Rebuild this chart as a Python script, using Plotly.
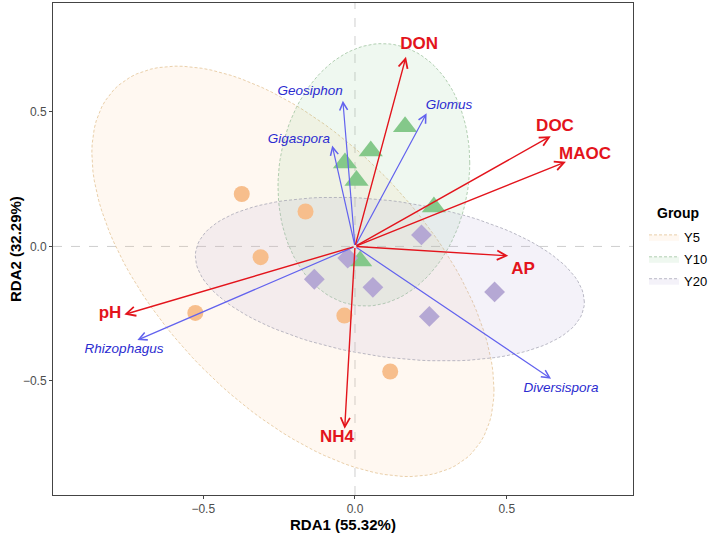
import numpy as np
import plotly.graph_objects as go

# ---------------- data ----------------
groups = ["Y5", "Y10", "Y20"]
y5_x = [-0.373, -0.163, -0.311, -0.526, -0.035, 0.116]
y5_y = [0.195, 0.13, -0.04, -0.247, -0.257, -0.465]
y10_x = [0.165, 0.052, -0.033, 0.005, 0.26, 0.017]
y10_y = [0.445, 0.355, 0.31, 0.245, 0.147, -0.054]
y20_x = [0.219, -0.024, -0.134, 0.059, 0.46, 0.245]
y20_y = [0.043, -0.043, -0.122, -0.152, -0.169, -0.26]

env_names = ["DON", "DOC", "MAOC", "AP", "NH4", "pH"]
env_x = [0.168, 0.645, 0.695, 0.505, -0.034, -0.76]
env_y = [0.705, 0.41, 0.315, -0.035, -0.678, -0.253]
env_lab_x = [0.211, 0.659, 0.758, 0.554, -0.059, -0.807]
env_lab_y = [0.75, 0.445, 0.34, -0.088, -0.71, -0.252]

sp_names = ["Geosiphon", "Glomus", "Gigaspora", "Rhizophagus", "Diversispora"]
sp_x = [-0.04, 0.236, -0.075, -0.717, 0.646]
sp_y = [0.542, 0.495, 0.375, -0.348, -0.492]
sp_lab_x = [-0.148, 0.31, -0.185, -0.761, 0.679]
sp_lab_y = [0.576, 0.524, 0.397, -0.383, -0.529]

x_ticks = [-0.5, 0.0, 0.5]
y_ticks = [-0.5, 0.0, 0.5]
tick_text = ["\u22120.5", "0.0", "0.5"]

# ---------------- styles ----------------
pt_colors = {"Y5": "#F7BE8C", "Y10": "#84C88A", "Y20": "#B5A8D4"}
pt_symbols = {"Y5": "circle", "Y10": "triangle-up", "Y20": "diamond"}
pt_sizes = {"Y5": 16, "Y10": 21, "Y20": 16}
el_fill = {"Y5": "rgba(253,196,140,0.12)", "Y10": "rgba(132,200,138,0.13)", "Y20": "rgba(181,168,212,0.15)"}
el_line = {"Y5": "rgba(225,190,140,0.9)", "Y10": "rgba(150,190,150,0.9)", "Y20": "rgba(160,160,175,0.9)"}
RED = "#E3141C"
BLUE_LINE = "#6262EE"
BLUE_TEXT = "#2B2BD0"
FONT = "Liberation Sans, Arial, sans-serif"

pts = {"Y5": (y5_x, y5_y), "Y10": (y10_x, y10_y), "Y20": (y20_x, y20_y)}


def cov_trob(X, nu=5, maxit=25, tol=0.01):
    n, p = X.shape
    wt = np.ones(n)
    loc = X.mean(0)
    w = np.sqrt(wt)
    Xc = X - loc
    for _ in range(maxit):
        w0 = w
        Xc = X - loc
        _, d, Vt = np.linalg.svd(np.sqrt(w / w.sum())[:, None] * Xc, full_matrices=False)
        wX = Xc @ Vt.T @ np.diag(1 / d)
        Q = (wX ** 2).sum(1)
        w = (wt * (nu + p)) / (nu + Q)
        loc = (w[:, None] * X).sum(0) / w.sum()
        if np.all(np.abs(w - w0) < tol):
            break
    sw = np.sqrt(w)[:, None] * Xc
    cov = sw.T @ sw / wt.sum()
    return loc, cov


def ellipse(xs, ys, segments=120):
    X = np.column_stack([xs, ys])
    center, shape = cov_trob(X)
    radius = np.sqrt(2 * 5.786135)  # qf(0.95, 2, n-1) with n = 6
    L = np.linalg.cholesky(shape)
    a = np.linspace(0, 2 * np.pi, segments + 1)
    circ = np.column_stack([np.cos(a), np.sin(a)])
    e = center + radius * (circ @ L.T)
    return e[:, 0], e[:, 1]


fig = go.Figure()

# ellipses
for g in groups:
    ex, ey = ellipse(*pts[g])
    fig.add_trace(go.Scatter(
        x=ex, y=ey, mode="lines", fill="toself", fillcolor=el_fill[g],
        line=dict(color=el_line[g], width=0.8, dash="3px,2px"),
        name=g, legendgroup=g, showlegend=True, hoverinfo="skip"))

# points
for g in groups:
    fig.add_trace(go.Scatter(
        x=pts[g][0], y=pts[g][1], mode="markers", name=g, legendgroup=g, showlegend=False,
        marker=dict(color=pt_colors[g], symbol=pt_symbols[g], size=pt_sizes[g], line=dict(width=0))))

# arrows
annotations = []
for x, y in zip(sp_x, sp_y):
    annotations.append(dict(x=x, y=y, ax=0, ay=0, xref="x", yref="y", axref="x", ayref="y",
                            text="", showarrow=True, arrowhead=5, arrowsize=1.3, arrowwidth=1.2,
                            arrowcolor=BLUE_LINE))
for x, y in zip(env_x, env_y):
    annotations.append(dict(x=x, y=y, ax=0, ay=0, xref="x", yref="y", axref="x", ayref="y",
                            text="", showarrow=True, arrowhead=5, arrowsize=1.3, arrowwidth=1.4,
                            arrowcolor=RED))

# legend title and axis titles
annotations.append(dict(x=1.038, y=0.573, xref="paper", yref="paper", xanchor="left", yanchor="middle",
                        text="<b>Group</b>", showarrow=False,
                        font=dict(family=FONT, size=14, color="black")))
annotations.append(dict(x=0.5, y=-0.059, xref="paper", yref="paper", xanchor="center", yanchor="middle",
                        text="<b>RDA1 (55.32%)</b>", showarrow=False,
                        font=dict(family=FONT, size=15, color="black")))
annotations.append(dict(x=-0.0655, y=0.5, xref="paper", yref="paper", xanchor="center", yanchor="middle",
                        text="<b>RDA2 (32.29%)</b>", showarrow=False, textangle=-90,
                        font=dict(family=FONT, size=15, color="black")))

# labels
fig.add_trace(go.Scatter(x=sp_lab_x, y=sp_lab_y, mode="text", text=sp_names, showlegend=False,
                         cliponaxis=False,
                         textfont=dict(family=FONT, size=13.5, color=BLUE_TEXT, style="italic"),
                         hoverinfo="skip"))
fig.add_trace(go.Scatter(x=env_lab_x, y=env_lab_y, mode="text", text=env_names, showlegend=False,
                         cliponaxis=False,
                         textfont=dict(family=FONT, size=17, color=RED, weight="bold"),
                         hoverinfo="skip"))

axis_common = dict(showgrid=False, zeroline=False,
                   showline=True, linecolor="#444444", linewidth=1, mirror=True,
                   ticks="outside", ticklen=3, tickcolor="#444444",
                   tickfont=dict(family=FONT, size=12, color="#4D4D4D"))

fig.update_layout(
    width=709, height=534,
    margin=dict(l=53, r=76, t=3, b=39, autoexpand=False),
    plot_bgcolor="white", paper_bgcolor="white",
    annotations=annotations,
    xaxis=dict(range=[-0.995, 0.916], tickvals=x_ticks, ticktext=tick_text, **axis_common),
    yaxis=dict(range=[-0.924, 0.905], tickvals=y_ticks, ticktext=tick_text, **axis_common),
    legend=dict(x=1.019, xanchor="left", y=0.555, yanchor="top",
                font=dict(family=FONT, size=13, color="black"), bgcolor="rgba(0,0,0,0)",
                itemwidth=30, tracegroupgap=2),
    showlegend=True,
)

# dashed zero lines
fig.add_shape(type="line", xref="x", yref="paper", x0=0, x1=0, y0=0, y1=1,
              line=dict(color="#CFCFCF", width=1, dash="dash"), layer="below")
fig.add_shape(type="line", xref="paper", yref="y", x0=0, x1=1, y0=0, y1=0,
              line=dict(color="#CFCFCF", width=1, dash="dash"), layer="below")

fig.write_html("out.html")
